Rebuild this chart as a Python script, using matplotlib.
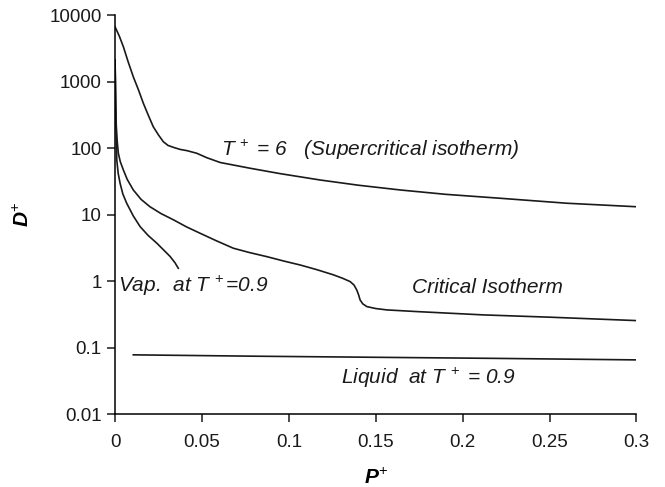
import numpy as np
import matplotlib.pyplot as plt
from matplotlib.ticker import FixedLocator, FixedFormatter

plt.rcParams['font.family'] = ['Liberation Sans', 'DejaVu Sans']
plt.rcParams['mathtext.fontset'] = 'custom'
plt.rcParams['mathtext.rm'] = 'Liberation Sans'
plt.rcParams['mathtext.it'] = 'Liberation Sans:italic'
plt.rcParams['mathtext.bf'] = 'Liberation Sans:bold:italic'

# Supercritical isotherm T+ = 6
p_super = [0, 0.0025, 0.0048, 0.0075, 0.0105, 0.0135, 0.0163, 0.0192, 0.022,
           0.025, 0.0278, 0.0305, 0.0336, 0.0374, 0.0413, 0.047,
           0.0528, 0.0605, 0.0777, 0.095, 0.118, 0.14, 0.164, 0.19, 0.2216,
           0.26, 0.3]
d_super = [6670, 4800, 3340, 2000, 1183, 750, 472, 310, 210,
           158, 125, 110, 103, 96, 92, 84,
           72, 61, 50, 41.5, 33.3, 27.8, 23.6, 20.3, 17.7,
           14.9, 13.2]

# Critical isotherm
p_crit = [0, 0.0002, 0.0004, 0.0007, 0.0012, 0.0019, 0.003, 0.0048, 0.007,
          0.0105, 0.015, 0.0201, 0.0265, 0.0336, 0.041, 0.0489, 0.058,
          0.0681, 0.0775, 0.0873, 0.097, 0.1065, 0.116, 0.1257, 0.131,
          0.1353, 0.1375, 0.1391, 0.1402, 0.141, 0.1425, 0.1449, 0.15,
          0.1564, 0.1737, 0.2119, 0.2504, 0.3]
d_crit = [2100, 1000, 450, 220, 130, 84, 63, 47, 34,
          23.6, 17.0, 13.2, 10.4, 8.4, 6.6, 5.28, 4.1,
          3.14, 2.7, 2.35, 2.02, 1.76, 1.5, 1.25, 1.11,
          0.99, 0.88, 0.74, 0.62, 0.526, 0.46, 0.417, 0.39,
          0.372, 0.351, 0.313, 0.289, 0.257]

# Vapour at T+ = 0.9
p_vap = [0, 0.0002, 0.0004, 0.0007, 0.001, 0.0018, 0.0029, 0.0045, 0.0067,
         0.0105, 0.0144, 0.019, 0.024, 0.028, 0.0317, 0.0345, 0.0364]
d_vap = [2100, 1000, 450, 160, 66.5, 42, 29.7, 20.5, 14.9,
         9.6, 6.65, 4.9, 3.75, 2.95, 2.36, 1.9, 1.57]

# Liquid at T+ = 0.9
p_liq = [0.0105, 0.08, 0.15, 0.22, 0.3]
d_liq = [0.0786, 0.075, 0.0722, 0.0695, 0.066]

x_ticks = [0, 0.05, 0.1, 0.15, 0.2, 0.25, 0.3]
x_labels = ['0', '0.05', '0.1', '0.15', '0.2', '0.25', '0.3']
y_ticks = [0.01, 0.1, 1, 10, 100, 1000, 10000]
y_labels = ['0.01', '0.1', '1', '10', '100', '1000', '10000']

fig = plt.figure(figsize=(6.65, 4.87), dpi=100)
ax = fig.add_axes([0.173, 0.149, 0.784, 0.82])

for p, d in [(p_super, d_super), (p_crit, d_crit), (p_vap, d_vap), (p_liq, d_liq)]:
    ax.plot(p, d, color='#1a1a1a', lw=1.2)

ax.set_yscale('log')
ax.set_xlim(0, 0.3)
ax.set_ylim(0.01, 10000)
ax.yaxis.set_major_locator(FixedLocator(y_ticks))
ax.yaxis.set_major_formatter(FixedFormatter(y_labels))
ax.yaxis.set_minor_locator(FixedLocator([]))
ax.set_xticks(x_ticks)
ax.set_xticklabels(x_labels)

for s in ['top', 'right']:
    ax.spines[s].set_visible(False)
for s in ['left', 'bottom']:
    ax.spines[s].set_linewidth(1.1)
ax.tick_params(direction='out', length=6, width=1.1, labelsize=13.5, colors='#1a1a1a')
ax.tick_params(axis='x', pad=8)

ax.set_xlabel(r'$\mathbf{P}^{+}$', fontsize=15, labelpad=12)
ax.set_ylabel(r'$\mathbf{D}^{+}$', fontsize=15, labelpad=12)

txt = dict(fontsize=15, style='italic', color='#1a1a1a', va='center', ha='left')
ax.text(0.061, 95, r'$T^{\,+}$ = 6   (Supercritical isotherm)', **txt)
ax.text(0.0015, 0.84, r'Vap.  at $T^{\,+}$=0.9', **txt)
ax.text(0.171, 0.80, 'Critical Isotherm', **txt)
ax.text(0.130, 0.0357, r'Liquid  at $T^{\,+}$ = 0.9', **txt)

fig.savefig('out.png', dpi=100)
